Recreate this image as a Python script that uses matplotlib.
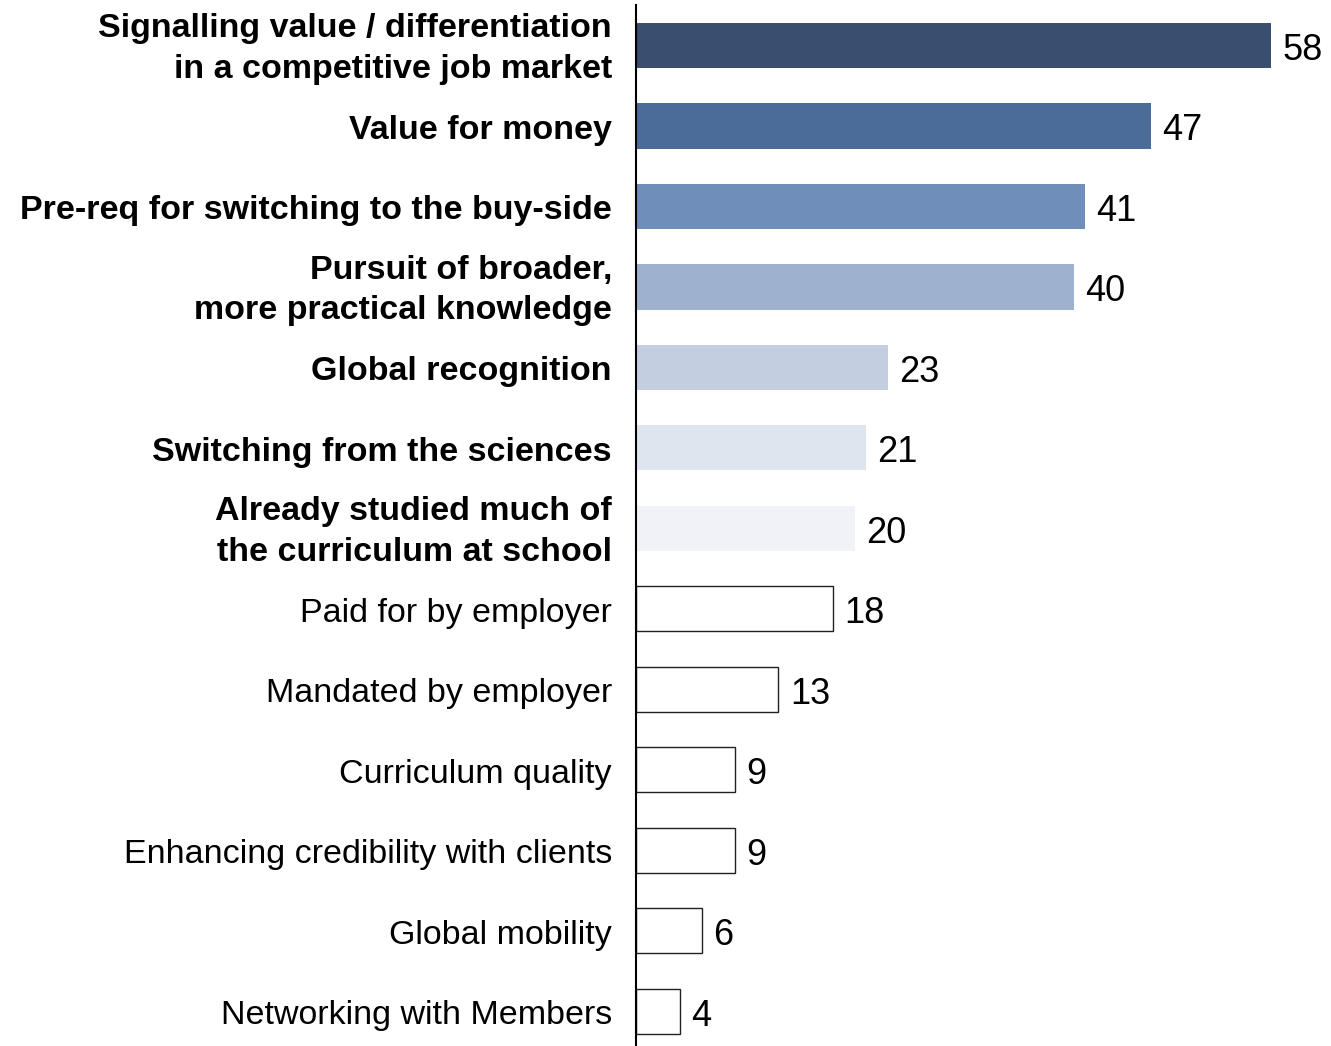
import matplotlib
matplotlib.use("Agg")
import matplotlib.pyplot as plt

plt.rcParams['font.family'] = ['Liberation Sans', 'DejaVu Sans']

# Reasons for taking the qualification (% of respondents)
reasons = [
    "Signalling value / differentiation\nin a competitive job market",
    "Value for money",
    "Pre-req for switching to the buy-side",
    "Pursuit of broader,\nmore practical knowledge",
    "Global recognition",
    "Switching from the sciences",
    "Already studied much of\nthe curriculum at school",
    "Paid for by employer",
    "Mandated by employer",
    "Curriculum quality",
    "Enhancing credibility with clients",
    "Global mobility",
    "Networking with Members",
]
values = [58, 47, 41, 40, 23, 21, 20, 18, 13, 9, 9, 6, 4]
highlighted = [True] * 7 + [False] * 6

# Shades for the highlighted reasons, darkest first; the rest are outlined white bars
fills = ["#3A4F6F", "#4B6B99", "#6F8EB9", "#9EB1CF", "#C3CEE0", "#DEE5EF", "#F0F2F8"]

W, H = 1331, 1046
fig = plt.figure(figsize=(W / 100, H / 100), dpi=100)
ax = fig.add_axes([636 / W, 0.0, 60 * 10.95 / W, 1 - 5 / H])

ypos = list(range(len(values)))
face = [fills[i] if highlighted[i] else "white" for i in ypos]
edge = [fills[i] if highlighted[i] else "#222222" for i in ypos]
lw = [0 if highlighted[i] else 1.0 for i in ypos]

ax.barh(ypos, values, height=0.56, color=face, edgecolor=edge, linewidth=lw, zorder=2)

ax.set_xlim(0, 60)
ax.set_ylim(12.43, -0.503)

for y, v in zip(ypos, values):
    ax.text(v + 1.05, y + 0.01, str(v), va="center_baseline", ha="left", fontsize=26,
            color="black", clip_on=False)

for y, (lab, hl) in enumerate(zip(reasons, highlighted)):
    multiline = "\n" in lab
    ax.text(-2.2, y + (0.045 if multiline else 0.01), lab,
            va="center" if multiline else "center_baseline", ha="right",
            fontsize=24.5, fontweight="bold" if hl else "normal", color="black",
            linespacing=1.4, clip_on=False)

for s in ["top", "right", "bottom"]:
    ax.spines[s].set_visible(False)
ax.spines["left"].set_linewidth(1.5)
ax.spines["left"].set_color("black")
ax.set_xticks([])
ax.set_yticks([])

fig.savefig("out.png", dpi=100, facecolor="white")
